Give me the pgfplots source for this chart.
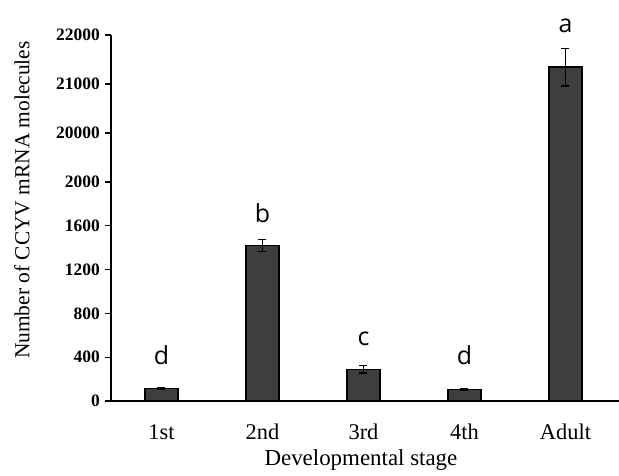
\documentclass[border=0pt]{standalone}
\usepackage{pgfplots}
\pgfplotsset{compat=1.18}
\usepackage{fontspec}
\setmainfont{Liberation Serif}
\newfontfamily\letterfont{Open Sans}
\definecolor{barfill}{HTML}{3E3E3E}
\newcommand\brokentrafo[1]{%
  \begingroup
  \pgfkeys{/pgf/fpu=true,/pgf/fpu/output format=fixed}%
  \pgfmathparse{(#1<=2000)*(#1*0.1095)+((#1>2000)&&(#1<=20000))*(219+(#1-2000)*0.00272222)+(#1>20000)*(268+(#1-20000)*0.049)}%
  \xdef\brokentraforesult{\pgfmathresult}%
  \endgroup
  \let\pgfmathresult\brokentraforesult}
\begin{document}
\begin{tikzpicture}
\path[use as bounding box] (-111bp,-75bp) rectangle (508bp,401bp);
\begin{axis}[
  scale only axis, width=508bp, height=366bp,
  at={(0,0)}, anchor=south west,
  xmin=-0.5, xmax=4.53, ymin=0, ymax=22000,
  y coord trafo/.code={\brokentrafo{#1}},
  axis x line=bottom, axis y line=left,
  axis line style={-, line width=1.3bp, black},
  xtick={0,1,2,3,4}, xticklabels={1st,2nd,3rd,4th,Adult},
  x tick style={draw=none},
  ytick={0,400,800,1200,1600,2000,20000,21000,22000},
  yticklabels={0,400,800,1200,1600,2000,20000,21000,22000},
  y tick style={line width=1.3bp, black},
  tick align=outside, major tick length=6bp,
  xticklabel style={font=\fontsize{22.5}{24}\selectfont, anchor=base, yshift=-32bp},
  yticklabel style={font=\fontsize{17.5}{17.5}\selectfont\bfseries, anchor=east, inner sep=0pt, xshift=-5bp},
  xlabel={Developmental stage},
  ylabel={Number of CCYV mRNA molecules},
  every axis x label/.style={at={(axis description cs:0.492,0)}, anchor=base, yshift=-64bp, font=\fontsize{23}{24}\selectfont},
  every axis y label/.style={at={(axis description cs:-0.175,0.549)}, rotate=90, anchor=center, font=\fontsize{21.5}{24}\selectfont},
  clip=false,
]
\addplot[ybar, bar width=33bp, fill=barfill, draw=black, line width=1.2bp]
  coordinates {(0,116) (1,1418) (2,290) (3,103) (4,21345)};
% error bars
\addplot[black, line width=1.2bp, mark=-, mark size=4bp, mark options={line width=1.2bp}] coordinates {(0,106) (0,126)};
\addplot[black, line width=1.2bp, mark=-, mark size=4bp, mark options={line width=1.2bp}] coordinates {(1,1363) (1,1473)};
\addplot[black, line width=1.2bp, mark=-, mark size=4bp, mark options={line width=1.2bp}] coordinates {(2,256) (2,324)};
\addplot[black, line width=1.2bp, mark=-, mark size=4bp, mark options={line width=1.2bp}] coordinates {(3,95) (3,111)};
\addplot[black, line width=1.2bp, mark=-, mark size=4bp, mark options={line width=1.2bp}] coordinates {(4,20960) (4,21730)};
% significance letters
\node[font=\letterfont\fontsize{25}{25}\selectfont] at (axis cs:0,416) {d};
\node[font=\letterfont\fontsize{25}{25}\selectfont] at (axis cs:1,1717) {b};
\node[font=\letterfont\fontsize{25}{25}\selectfont] at (axis cs:2,566) {c};
\node[font=\letterfont\fontsize{25}{25}\selectfont] at (axis cs:3,416) {d};
\node[font=\letterfont\fontsize{25}{25}\selectfont] at (axis cs:4,22180) {a};
\end{axis}
\end{tikzpicture}
\end{document}
